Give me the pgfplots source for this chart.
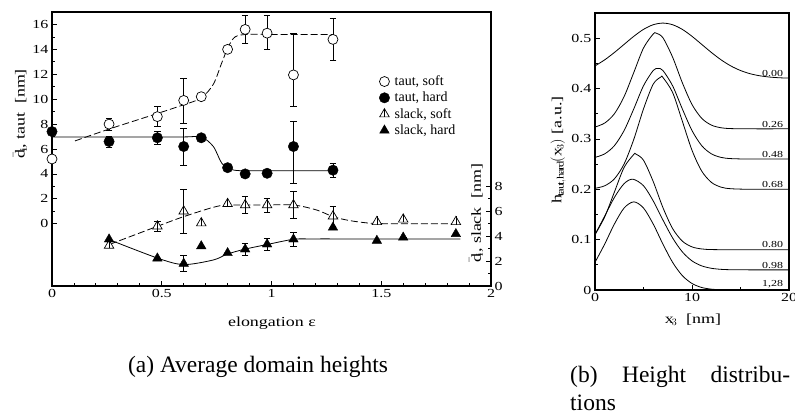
\documentclass[border=0pt]{standalone}
\usepackage{fontspec}
\setmainfont{Liberation Serif}
\setmathrm{Liberation Serif}[FakeStretch=1.3]
\newfontfamily\figfont{Liberation Serif}[FakeStretch=1.3]
\usepackage{pgfplots}
\usepackage{pgfplotstable}
\pgfplotsset{compat=1.18}

\pgfdeclareplotmark{tribar}{%
  \pgfpathmoveto{\pgfqpointpolar{90}{\pgfplotmarksize}}%
  \pgfpathlineto{\pgfqpointpolar{210}{\pgfplotmarksize}}%
  \pgfpathlineto{\pgfqpointpolar{330}{\pgfplotmarksize}}%
  \pgfpathclose
  \pgfusepathqfillstroke
  \pgfpathmoveto{\pgfqpoint{0pt}{-0.5\pgfplotmarksize}}%
  \pgfpathlineto{\pgfqpoint{0pt}{\pgfplotmarksize}}%
  \pgfusepathqstroke
}

% taut series (left axis units, nm)
\pgfplotstableread{
x y ep em
0.00 5.2 0 0
0.26 8.0 0.5 0.5
0.48 8.6 0.8 0.8
0.60 9.9 1.8 1.8
0.68 10.2 0 0
0.80 14.0 0 0
0.88 15.6 1.1 1.1
0.98 15.3 1.4 1.3
1.10 11.95 3.35 2.55
1.28 14.8 1.7 1.7
}\tautsoft
\pgfplotstableread{
x y ep em
0.00 7.4 0 0
0.26 6.6 0.45 0.45
0.48 6.9 0.5 0.5
0.60 6.2 1.5 1.5
0.68 6.9 0 0
0.80 4.5 0 0
0.88 4.0 0 0
0.98 4.05 0 0
1.10 6.2 2.0 2.95
1.28 4.3 0.55 0.55
}\tauthard
% slack series (right axis units, nm)
\pgfplotstableread{
x y ep em
0.26 3.25 0 0
0.48 4.8 0.4 0.4
0.60 6.0 1.75 1.75
0.68 5.05 0 0
0.80 6.6 0 0
0.88 6.5 0.7 0.7
0.98 6.5 0.55 0.55
1.10 6.5 1.1 1.1
1.28 5.6 0.8 0.8
1.48 5.15 0 0
1.60 5.35 0 0
1.84 5.15 0 0
}\slacksoft
\pgfplotstableread{
x y ep em
0.26 3.75 0 0
0.48 2.22 0 0
0.60 1.8 0.65 0.65
0.68 3.2 0 0
0.80 2.65 0 0
0.88 2.95 0.5 0.5
0.98 3.35 0.45 0.45
1.10 3.75 0.55 0.55
1.28 4.7 0 0
1.48 3.64 0 0
1.60 3.9 0 0
1.84 4.18 0 0
}\slackhard

\pgfplotsset{
  errstyle/.style={draw=none, mark=none, forget plot,
    error bars/.cd, y dir=both, y explicit,
    error bar style={line width=0.6pt, black},
    error mark options={rotate=90, mark size=3.3pt, line width=0.6pt, black}},
}
\tikzset{
  ticklab/.style={font=\figfont\fontsize{12.3}{14}\selectfont},
  axlab/.style={font=\figfont\fontsize{13.8}{16}\selectfont},
}

\begin{document}
\begin{tikzpicture}
\useasboundingbox (0pt,0pt) rectangle (795pt,-414pt);

% ---------------- left panel, left axis (taut) ----------------
\begin{axis}[
  at={(52pt,-286pt)}, anchor=south west, scale only axis,
  width=439pt, height=274pt,
  xmin=0, xmax=2, ymin=-5, ymax=17,
  xtick={0,0.5,1,1.5,2}, xticklabels={0,0.5,1,1.5,2},
  minor x tick num=4,
  ytick={0,2,...,16}, minor ytick={1,3,...,15},
  xtick pos=bottom, ytick pos=left, tick align=inside,
  major tick length=5pt, minor tick length=3pt,
  axis line style={line width=1.1pt},
  every tick/.style={line width=0.8pt, black},
  /pgf/number format/assume math mode=true,
  tick label style={ticklab},
  xlabel={elongation ε},
  xlabel style={axlab, at={(axis description cs:0.501,-0.135)}, anchor=center},
  ylabel={$\bar{\mathrm{d}}_\mathrm{i}$, taut~~[nm]},
  ylabel style={axlab, at={(axis description cs:-0.073,0.628)}, anchor=center},
  clip=false,
]
\addplot[errstyle] table[x=x, y=y, y error plus=ep, y error minus=em] {\tautsoft};
\addplot[errstyle] table[x=x, y=y, y error plus=ep, y error minus=em] {\tauthard};
% fitted guide curves
\addplot[smooth, line width=0.8pt, dash pattern=on 7pt off 3pt] coordinates {
 (0.105,6.65) (0.26,7.6) (0.48,8.85) (0.60,9.55) (0.68,10.1) (0.735,11.2) (0.773,12.9)
 (0.803,14.2) (0.834,15.0) (0.887,15.2) (1.0,15.2) (1.28,15.2)};
\addplot[smooth, line width=0.8pt] coordinates {
 (0,6.97) (0.3,6.97) (0.6,6.97) (0.68,6.97) (0.735,6.2) (0.773,4.87) (0.81,4.39) (0.855,4.26)
 (0.95,4.25) (1.28,4.25)};
\addplot[only marks, mark=*, mark size=5pt, mark options={fill=white, draw=black, line width=0.7pt}] table[x=x,y=y] {\tautsoft};
\addplot[only marks, mark=*, mark size=5.2pt, mark options={fill=black, draw=black}] table[x=x,y=y] {\tauthard};
\end{axis}

% ---------------- left panel, right axis (slack) ----------------
\begin{axis}[
  at={(52pt,-286pt)}, anchor=south west, scale only axis,
  width=439pt, height=274pt,
  xmin=0, xmax=2, ymin=0, ymax=22,
  axis x line=none, axis y line*=right,
  ytick={0,2,4,6,8}, minor ytick={1,3,5,7},
  tick align=inside,
  major tick length=5pt, minor tick length=3pt,
  axis line style={line width=1.1pt},
  every tick/.style={line width=0.8pt, black},
  /pgf/number format/assume math mode=true,
  tick label style={ticklab},
  clip=false,
  legend style={at={(axis description cs:0.745,0.775)}, anchor=north west, draw=none, fill=none,
    font=\fontsize{14}{15}\selectfont, row sep=1pt, inner sep=0pt,
    /tikz/every odd column/.append style={column sep=3pt}},
  legend cell align=left,
]
\addlegendimage{only marks, mark=*, mark size=5pt, mark options={fill=white, draw=black, line width=0.7pt}}
\addlegendentry{taut, soft}
\addlegendimage{only marks, mark=*, mark size=5.2pt, mark options={fill=black, draw=black}}
\addlegendentry{taut, hard}
\addplot[errstyle] table[x=x, y=y, y error plus=ep, y error minus=em] {\slacksoft};
\addplot[errstyle] table[x=x, y=y, y error plus=ep, y error minus=em] {\slackhard};
\addplot[smooth, line width=0.8pt, dash pattern=on 7pt off 3pt, forget plot] coordinates {
 (0.264,3.35) (0.484,4.82) (0.6,5.57) (0.735,6.32) (0.8,6.5) (0.95,6.5) (1.1,6.5)
 (1.206,6.1) (1.28,5.57) (1.357,5.25) (1.46,5.03) (1.6,5.0) (1.86,5.0)};
\addplot[smooth, line width=0.8pt, forget plot] coordinates {
 (0.264,3.7) (0.484,2.22) (0.6,1.72) (0.735,2.09) (0.8,2.57) (0.877,2.95) (0.985,3.35)
 (1.1,3.75) (1.18,3.78) (1.4,3.78) (1.6,3.78) (1.86,3.78)};
\addplot[only marks, mark=tribar, mark size=5.5pt, mark options={fill=white, draw=black, line width=0.7pt}] table[x=x,y=y] {\slacksoft};
\addlegendentry{slack, soft}
\addplot[only marks, mark=triangle*, mark size=5.5pt, mark options={fill=black, draw=black}] table[x=x,y=y] {\slackhard};
\addlegendentry{slack, hard}
\node[rotate=90, axlab] at (axis description cs:0.966,0.266) {$\bar{\mathrm{d}}_\mathrm{i}$, slack~~[nm]};
\end{axis}

% ---------------- right panel ----------------
\begin{axis}[
  at={(595pt,-290pt)}, anchor=south west, scale only axis,
  width=194pt, height=277pt,
  xmin=0, xmax=20, ymin=0, ymax=0.55,
  xtick={0,10,20}, minor xtick={5,15},
  ytick={0,0.1,0.2,0.3,0.4,0.5}, yticklabels={0,0.1,0.2,0.3,0.4,0.5},
  minor ytick={0.05,0.15,0.25,0.35,0.45},
  xtick pos=bottom, ytick pos=left, tick align=inside,
  major tick length=5pt, minor tick length=3pt,
  axis line style={line width=1.1pt},
  every tick/.style={line width=0.8pt, black},
  /pgf/number format/assume math mode=true,
  tick label style={ticklab},
  xlabel={$\mathrm{x}_3$~~[nm]},
  xlabel style={axlab, inner sep=0pt, at={(axis description cs:0.505,-0.108)}, anchor=center},
  ylabel={$\mathrm{h}_{\mathrm{taut,hard}}(\mathrm{x}_3)$ [a.u.]},
  ylabel style={axlab, at={(axis description cs:-0.19,0.505)}, anchor=center},
  clip=true,
]
\addplot[smooth, line width=0.8pt] coordinates {
 (0,0.4449) (1,0.4570) (2,0.4716) (3,0.4877) (4,0.5037) (5,0.5175) (6,0.5267) (7,0.53)
 (8,0.5267) (9,0.5175) (10,0.5037) (11,0.4877) (12,0.4716) (13,0.4570) (14,0.4449)
 (15,0.4358) (16,0.4294) (17,0.4253) (18,0.4228) (19,0.4214) (20,0.4207)};
\addplot[smooth, line width=0.8pt] coordinates {
 (0,0.3236) (1,0.3315) (2,0.3499) (3,0.3840) (4,0.4320) (5,0.4805) (6,0.5083) (6.3,0.51)
 (7,0.5009) (8,0.4623) (9,0.4117) (10,0.3683) (11,0.3409) (12,0.3274) (13,0.3221)
 (14,0.3205) (16,0.32) (20,0.32)};
\addplot[smooth, line width=0.8pt] coordinates {
 (0,0.2633) (1,0.2703) (2,0.2866) (3,0.3166) (4,0.3597) (5,0.4055) (6,0.4358) (6.5,0.44)
 (7,0.4358) (8,0.4055) (9,0.3597) (10,0.3166) (11,0.2866) (12,0.2703) (13,0.2633)
 (14,0.2609) (16,0.26) (20,0.26)};
\addplot[smooth, line width=0.8pt] coordinates {
 (0,0.2019) (1,0.2069) (2,0.2207) (3,0.2502) (4,0.2992) (5,0.3596) (6,0.4087) (6.8,0.423)
 (7,0.4221) (8,0.3922) (9,0.3353) (10,0.2774) (11,0.2361) (12,0.2137) (13,0.2042)
 (14,0.2011) (16,0.2) (20,0.2)};
\addplot[smooth, line width=0.8pt] coordinates {
 (0,0.110) (1,0.1451) (2,0.1945) (3,0.2434) (4,0.2692) (4.2,0.27) (5,0.2577) (6,0.2154)
 (7,0.1637) (8,0.1220) (9,0.0971) (10,0.0856) (11,0.0815) (12,0.0803) (14,0.08) (20,0.08)};
\addplot[smooth, line width=0.8pt] coordinates {
 (0,0.1100) (1,0.1468) (2,0.1838) (3,0.2112) (3.9,0.22) (5,0.2070) (6,0.1769) (7,0.1391)
 (8,0.1034) (9,0.0758) (10,0.0578) (11,0.0479) (12,0.0431) (13,0.041) (14,0.0403)
 (16,0.04) (20,0.04)};
\addplot[smooth, line width=0.8pt] coordinates {
 (0,0.0549) (1,0.0912) (2,0.1310) (3,0.1628) (4,0.175) (5,0.1628) (6,0.1310) (7,0.0912)
 (8,0.0549) (9,0.0286) (10,0.0129) (11,0.0050) (12,0.0017) (13,0.0005) (14,0) (20,0)};
\begin{scope}[every node/.style={font=\figfont\fontsize{9.2}{10}\selectfont, anchor=south, inner sep=1.5pt}]
\node at (axis cs:18.3,0.4207) {0.00};
\node at (axis cs:18.3,0.32) {0.26};
\node at (axis cs:18.3,0.26) {0.48};
\node at (axis cs:18.3,0.20) {0.68};
\node at (axis cs:18.3,0.08) {0.80};
\node at (axis cs:18.3,0.04) {0.98};
\node at (axis cs:18.3,0.0) {1,28};
\end{scope}
\end{axis}

% captions
\node[font=\fontsize{23.5}{26}\selectfont, anchor=base] at (258pt,-372pt) {(a) Average domain heights};
\node[font=\fontsize{23.5}{26}\selectfont, anchor=base west, inner sep=0pt] at (570pt,-382pt) {\makebox[220pt][s]{(b) Height distribu-}};
\node[font=\fontsize{23.5}{26}\selectfont, anchor=base west, inner sep=0pt] at (570pt,-410.5pt) {tions};
\end{tikzpicture}
\end{document}
